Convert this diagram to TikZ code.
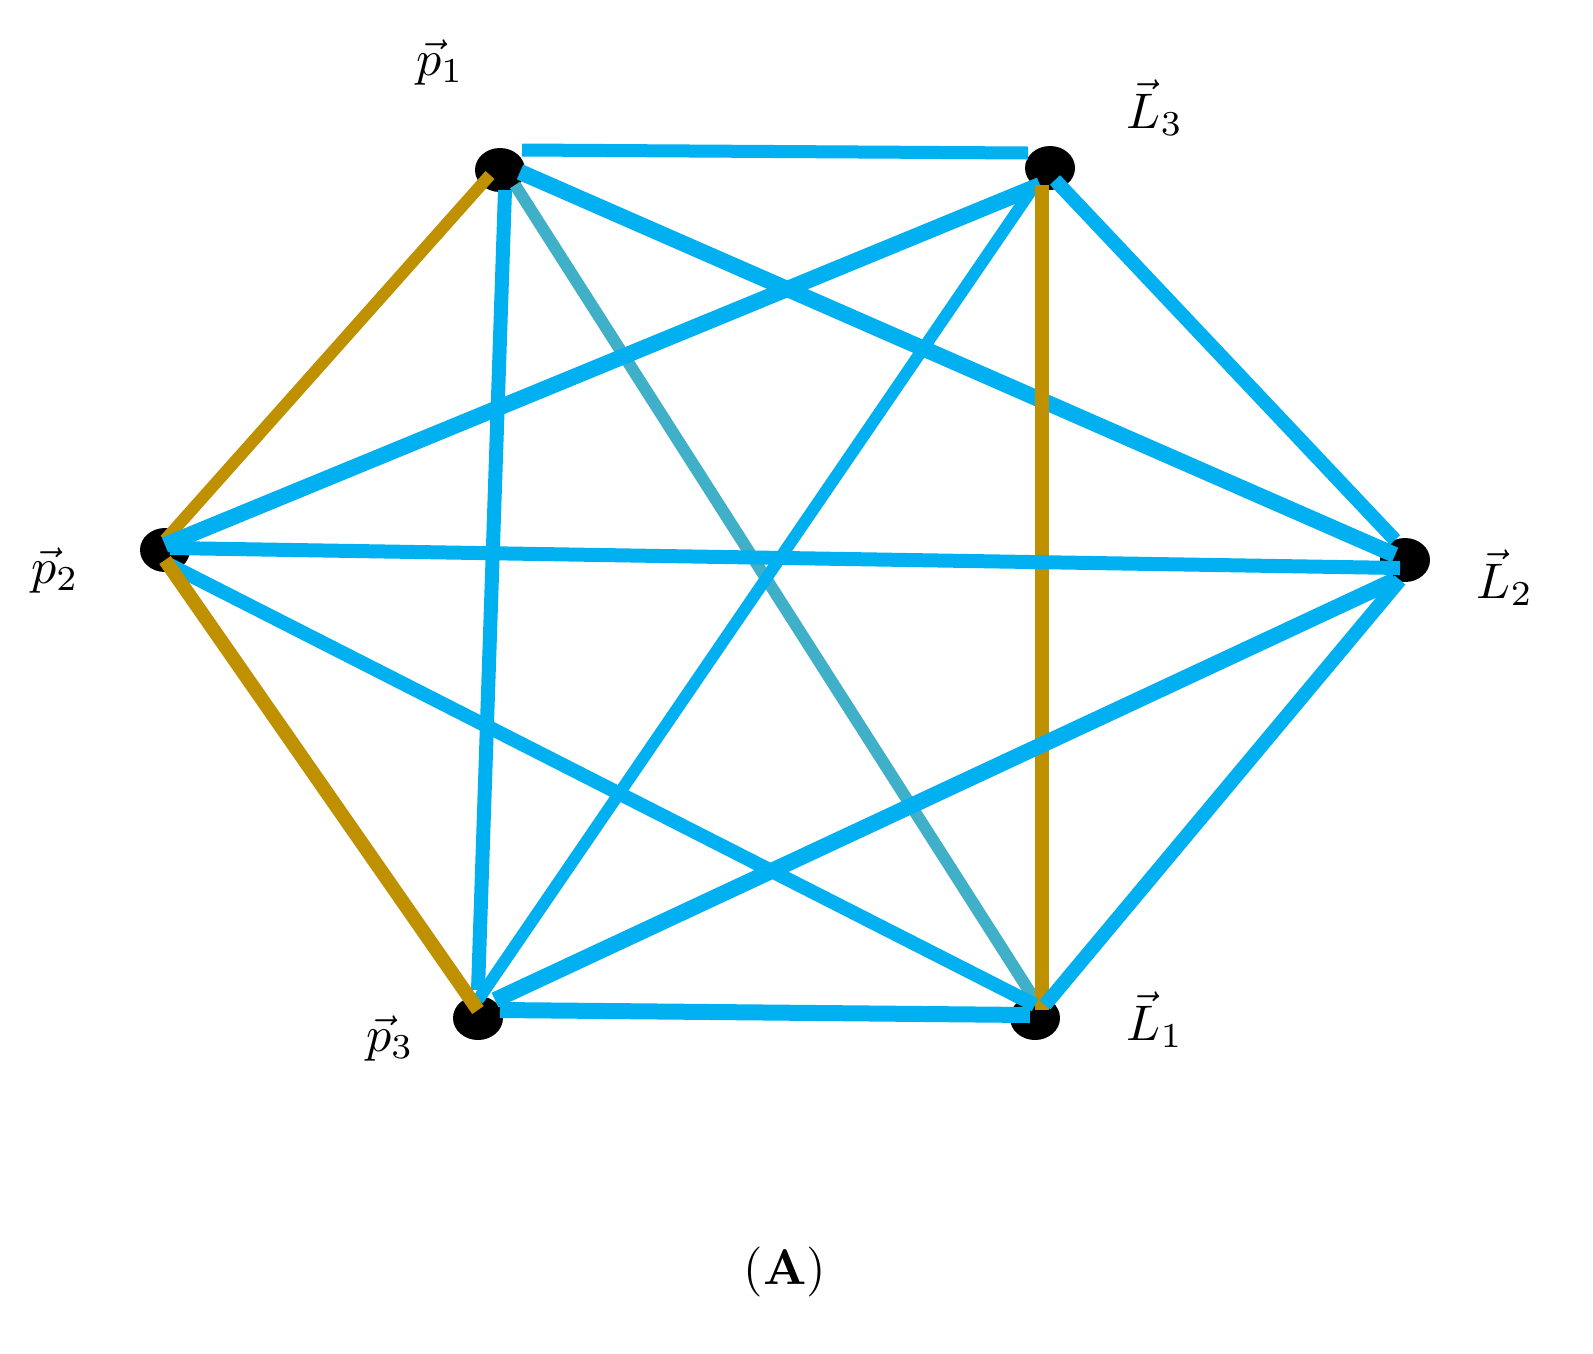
\documentclass[tikz,border=0pt]{standalone}
\usetikzlibrary{shapes.geometric}
\begin{document}
\begin{tikzpicture}[x=1pt,y=-1pt,
  dot/.style={fill=black,ellipse,minimum width=50pt,minimum height=44pt,inner sep=0pt},
  lbl/.style={scale=5,transform shape,inner sep=0pt},
  bl/.style={color={rgb,255:red,0;green,176;blue,240},line width=14pt},
  gd/.style={color={rgb,255:red,191;green,144;blue,0},line width=13pt},
  tl/.style={color={rgb,255:red,64;green,176;blue,200},line width=12pt}]
\useasboundingbox (0,0) rectangle (1593,1353);
\node[dot] (p1) at (500,170) {};
\node[dot] (L3) at (1050,168) {};
\node[dot] (p2) at (165,550) {};
\node[dot] (L2) at (1405,560) {};
\node[dot] (p3) at (478,1018) {};
\node[dot] (L1) at (1035,1018) {};
% edges
\draw[bl,line width=13pt] ([shift={(22,-20)}]p1.center) -- ([shift={(-22,-15)}]L3.center);
\draw[gd,line width=12pt] ([shift={(-10,5)}]p1.center) -- ([shift={(0,-10)}]p2.center);
\draw[bl] ([shift={(5,20)}]p1.center) -- ([shift={(0,-28)}]p3.center);
\draw[tl] ([shift={(15,15)}]p1.center) -- ([shift={(0,-18)}]L1.center);
\draw[bl,line width=16pt] ([shift={(20,2)}]p1.center) -- ([shift={(-10,-5)}]L2.center);
\draw[bl,line width=16pt] ([shift={(-10,17)}]L3.center) -- ([shift={(0,-5)}]p2.center);
\draw[bl,line width=12pt] ([shift={(-15,17)}]L3.center) -- ([shift={(0,-18)}]p3.center);
\draw[gd,line width=14pt] ([shift={(-8,17)}]L3.center) -- ([shift={(7,-8)}]L1.center);
\draw[bl] ([shift={(5,12)}]L3.center) -- ([shift={(-10,-20)}]L2.center);
\draw[bl] ([shift={(5,-2)}]p2.center) -- ([shift={(-5,8)}]L2.center);
\draw[bl] ([shift={(5,15)}]p2.center) -- ([shift={(0,-13)}]L1.center);
\draw[gd,line width=14pt] ([shift={(0,10)}]p2.center) -- ([shift={(0,-8)}]p3.center);
\draw[bl,line width=16pt] ([shift={(-10,20)}]L2.center) -- ([shift={(17,-18)}]p3.center);
\draw[bl] ([shift={(-5,20)}]L2.center) -- ([shift={(10,-13)}]L1.center);
\draw[bl,line width=16pt] ([shift={(22,-8)}]p3.center) -- ([shift={(-5,-3)}]L1.center);
% labels
\node[lbl] (tp1) at (440,62) {$\vec{p}_1$};
\node[lbl] (tL3) at (1155,108) {$\vec{L}_3$};
\node[lbl] (tp2) at (55,570) {$\vec{p}_2$};
\node[lbl] (tL2) at (1505,578) {$\vec{L}_2$};
\node[lbl] (tp3) at (390,1038) {$\vec{p}_3$};
\node[lbl] (tL1) at (1155,1020) {$\vec{L}_1$};
\node[lbl] (cap) at (785,1272) {(\textbf{A})};
\end{tikzpicture}
\end{document}
